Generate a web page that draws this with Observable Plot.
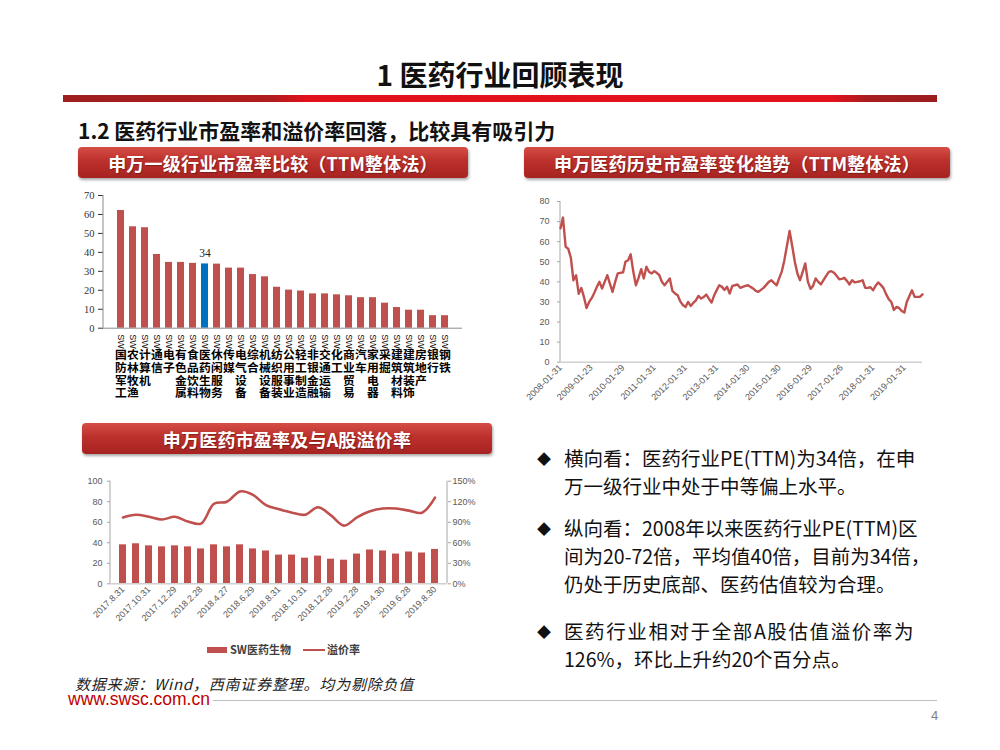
<!DOCTYPE html>
<html><head><meta charset="utf-8">
<script src="https://cdn.jsdelivr.net/npm/d3@7"></script>
<script src="https://cdn.jsdelivr.net/npm/@observablehq/plot@0.6"></script>
<style>
body{margin:0;width:1000px;height:750px;position:relative;background:#fff;font-family:"Noto Sans CJK SC",sans-serif;overflow:hidden}
.abs{position:absolute}
.btn{position:absolute;height:31px;border-radius:4px;background:linear-gradient(#d64d46,#bc302c 45%,#a62321);color:#fff;font-weight:bold;font-size:18px;display:flex;align-items:center;justify-content:center;box-shadow:1px 2px 3px rgba(0,0,0,.35);letter-spacing:0.2px;text-shadow:1px 1px 1px rgba(0,0,0,.3)}
.bul{position:absolute;left:537px;font-size:19.5px;line-height:28px;color:#111}
.bul .d{position:absolute;left:0;top:0;font-size:14px}
.bul .t{position:absolute;left:27px;top:0;white-space:nowrap}
</style></head>
<body>
<div class="abs" style="left:0;width:1000px;top:54px;text-align:center;font-size:28px;font-weight:bold;color:#111">1 医药行业回顾表现</div>
<div class="abs" style="left:63px;top:95px;width:874px;height:7px;background:linear-gradient(90deg,#9e1e1e 0%,#b21c1e 24%,#e2101a 28%,#e3121c 88%,#a81e1f 92%,#9a1d1d 100%)"></div>
<div class="abs" style="left:78px;top:115px;font-size:21px;font-weight:bold;color:#111">1.2 医药行业市盈率和溢价率回落，比较具有吸引力</div>
<div class="btn" style="left:78px;top:147px;width:390px">申万一级行业市盈率比较（TTM整体法）</div>
<div class="btn" style="left:524px;top:147px;width:426px">申万医药历史市盈率变化趋势（TTM整体法）</div>
<div class="btn" style="left:82px;top:423px;width:410px">申万医药市盈率及与A股溢价率</div>

<div id="c1" class="abs" style="left:60px;top:185px"></div>
<div id="c2" class="abs" style="left:520px;top:190px"></div>
<div id="c3" class="abs" style="left:70px;top:465px"></div>

<div class="abs" style="left:207px;top:647px;width:20px;height:6px;background:#c0504d"></div>
<div class="abs" style="left:230px;top:641px;font-size:11px;font-weight:bold;color:#404040">SW医药生物</div>
<div class="abs" style="left:303px;top:649px;width:22px;height:2px;background:#c0504d"></div>
<div class="abs" style="left:327px;top:641px;font-size:11px;font-weight:bold;color:#404040">溢价率</div>

<div class="abs" style="left:75px;top:676px;font-size:15px;line-height:15px;font-style:italic;letter-spacing:0.8px;color:#222">数据来源：Wind，西南证券整理。均为剔除负值</div>
<div class="abs" style="left:68px;top:691px;font-family:'Liberation Sans',Arial;font-size:17.5px;line-height:16px;color:#c00000">www.swsc.com.cn</div>
<div class="abs" style="left:213px;top:700px;width:724px;height:1px;background:#bfbfbf"></div>
<div class="abs" style="left:931px;top:708px;font-family:'Liberation Sans',Arial;font-size:13px;color:#7f7f7f">4</div>

<div class="bul" style="top:444px"><span class="d">◆</span><span class="t">横向看：医药行业PE(TTM)为34倍，在申<br>万一级行业中处于中等偏上水平。</span></div>
<div class="bul" style="top:514px"><span class="d">◆</span><span class="t">纵向看：2008年以来医药行业PE(TTM)区<br>间为20-72倍，平均值40倍，目前为34倍，<br>仍处于历史底部、医药估值较为合理。</span></div>
<div class="bul" style="top:617px"><span class="d">◆</span><span class="t"><span style="letter-spacing:1.6px">医药行业相对于全部A股估值溢价率为</span><br>126%，环比上升约20个百分点。</span></div>

<script>
// ---------- Chart 1 data ----------
const industries = ["国防军工","农林牧渔","计算机","通信","电子","有色金属","食品饮料","医药生物","休闲服务","传媒","电气设备","综合","机械设备","纺织服装","公用事业","轻工制造","非银金融","交通运输","化工","商业贸易","汽车","家用电器","采掘","建筑材料","建筑装饰","房地产","银行","钢铁"];
const industryPE = [62.1,53.5,53.0,38.9,34.7,34.7,34.2,33.9,33.8,31.7,31.7,28.3,27.1,21.6,20.1,19.6,18.1,18.1,17.6,17.1,16.1,16.1,13.2,10.9,9.5,9.5,6.6,6.6];
const highlight = "医药生物";
const peTicks = [0,10,20,30,40,50,60,70];

// ---------- Chart 2 data ----------
const histStart = [2008, 0]; // monthly, month-end, from 2008-01
const histPE = [66.7,72,57.5,56.5,52,40.8,43.3,34,37,32.5,27,30,
32,34.5,37.5,40,36.7,40,43.3,39,35,40,44.2,44.5,
44.7,50,50.8,53.7,45,38.3,42,46.3,41.7,47.5,45,44.2,
45.3,44.5,43.3,40,38.3,40,41.7,35.5,34.2,33.3,30.3,28.5,
27.5,30,28,29.5,30.8,33,31.7,32.5,33.7,31.5,29.7,33.3,
36,38.3,37.5,36,37.5,34.2,38,38.3,38.7,37,37.5,38,
38.3,37.5,36.7,35.5,35,36,37,38.5,40,40.8,39.5,38.3,
42,45,50.8,58,65.3,58,50,44,40.8,45,49.2,40,
36.5,38,41.7,40,38.7,40.8,43,45,45.3,44.5,43,41.3,
41.5,42,40.5,38.7,40.8,39.7,40,40.3,40.8,37,37,37.3,
35.8,38,39.7,38.5,37,34,31.5,30,26,27.5,27,25.5,
24.7,30,33,35.8,32.5,32.5,32.5,33.8];
const histTicks = ["2008-01-31","2009-01-23","2010-01-29","2011-01-31","2012-01-31","2013-01-31","2014-01-30","2015-01-30","2016-01-29","2017-01-26","2018-01-31","2019-01-31"];
const histYTicks = [0,10,20,30,40,50,60,70,80];

// ---------- Chart 3 data ----------
const premDates = ["2017.8.31","2017.9.29","2017.10.31","2017.11.30","2017.12.29","2018.1.31","2018.2.28","2018.3.30","2018.4.27","2018.5.31","2018.6.29","2018.7.31","2018.8.31","2018.9.28","2018.10.31","2018.11.30","2018.12.28","2019.1.31","2019.2.28","2019.3.29","2019.4.30","2019.5.31","2019.6.28","2019.7.31","2019.8.30"];
const premPE = [38,39,37,36,37,36,34,38,36,38,34,32,28,28,25,27,24,23,29,33,32,29,31,30,33.5];
const premRate = [97,101,98,94,98,91,88,117,120,135,130,115,109,104,101,112,100,85,97,106,110,110,107,104,126];
const leftTicks = [0,20,40,60,80,100];

const RED = "#c0504d";
const GREY = "#595959";

function vline(side, color) {
  return (index, scales, values, dims) => {
    const x = side === "left" ? dims.marginLeft : dims.width - dims.marginRight;
    const l = document.createElementNS("http://www.w3.org/2000/svg", "line");
    l.setAttribute("x1", x); l.setAttribute("x2", x);
    l.setAttribute("y1", dims.marginTop); l.setAttribute("y2", dims.height - dims.marginBottom);
    l.setAttribute("stroke", color); l.setAttribute("stroke-width", 1);
    return l;
  };
}

// ---------- Chart 1 ----------
const c1data = industries.map((n, i) => ({n, v: industryPE[i]}));
document.getElementById("c1").append(Plot.plot({
  width: 407, height: 232, marginLeft: 43, marginRight: 5, marginTop: 10, marginBottom: 89.3,
  style: {fontFamily: "Liberation Serif", fontSize: "10.5px", background: "transparent", color: "#333"},
  x: {domain: industries, padding: 0.45, axis: null},
  y: {domain: [0, 70]},
  marks: [
    Plot.axisY({ticks: peTicks, tickSize: 5, tickPadding: 4, label: null, color: "#333", fontFamily: "Liberation Serif", fontSize: 10.5}),
    vline("left", "#8c8c8c"),
    Plot.barY(c1data.filter(d => d.n !== highlight), {x: "n", y: "v", fill: RED}),
    Plot.barY(c1data.filter(d => d.n === highlight), {x: "n", y: "v", fill: "#0070c0"}),
    Plot.ruleY([0], {stroke: "#8c8c8c"}),
    Plot.text(c1data.filter(d => d.n === highlight), {x: "n", y: "v", text: d => String(Math.round(d.v)), dy: -11, fontFamily: "Liberation Serif", fontSize: 11.5, fill: "#222"}),
    Plot.text(industries, {x: d => d, y: 0, text: () => "SW", rotate: 90, textAnchor: "start", dy: 6, fontFamily: "Liberation Sans", fontSize: 9, fill: "#111"}),
    Plot.text(industries, {x: d => d, y: 0, text: d => d.split("").join("\n"), lineAnchor: "top", dy: 22, lineHeight: 1.08, fontFamily: "Noto Sans CJK SC", fontWeight: "bold", fontSize: 11.8, fill: "#000"})
  ]
}));

// ---------- Chart 2 ----------
const histData = histPE.map((v, i) => ({date: new Date(Date.UTC(histStart[0], histStart[1] + i + 1, 0)), v}));
const parse = d3.utcParse("%Y-%m-%d");
document.getElementById("c2").append(Plot.plot({
  width: 422, height: 232, marginLeft: 40, marginRight: 20, marginTop: 11, marginBottom: 60.3,
  style: {fontFamily: "Liberation Sans", fontSize: "9px", background: "transparent"},
  x: {type: "utc", domain: [parse("2008-01-31"), histData[histData.length - 1].date]},
  y: {domain: [0, 80]},
  marks: [
    Plot.axisY({ticks: histYTicks, tickSize: 3, tickPadding: 8, label: null, color: GREY, stroke: "#a6a6a6"}),
    vline("left", "#a6a6a6"),
    Plot.axisX({ticks: histTicks.map(parse), tickFormat: d3.utcFormat("%Y-%m-%d"), tickRotate: -45, tickSize: 0, tickPadding: 4, label: null, color: GREY}),
    Plot.ruleY([0], {stroke: "#d0d0d0", strokeWidth: 1.5}),
    Plot.line(histData, {x: "date", y: "v", stroke: RED, strokeWidth: 2.4, strokeLinejoin: "round"})
  ]
}));

// ---------- Chart 3 ----------
const premData = premDates.map((d, i) => ({d, pe: premPE[i], r: premRate[i] / 1.5}));
document.getElementById("c3").append(Plot.plot({
  width: 412, height: 176, marginLeft: 40, marginRight: 35, marginTop: 15.7, marginBottom: 57.7,
  style: {fontFamily: "Liberation Sans", fontSize: "9px", background: "transparent"},
  x: {domain: premDates, padding: 0.45},
  y: {domain: [0, 100]},
  marks: [
    Plot.axisY({anchor: "left", ticks: leftTicks, tickSize: 3, tickPadding: 5, label: null, color: GREY, stroke: "#a6a6a6"}),
    Plot.axisY({anchor: "right", ticks: leftTicks, tickFormat: d => (d * 1.5) + "%", tickSize: 3, tickPadding: 2, label: null, color: GREY, stroke: "#a6a6a6"}),
    vline("left", "#a6a6a6"),
    vline("right", "#a6a6a6"),
    Plot.axisX({ticks: premDates.filter((d, i) => i % 2 === 0), tickRotate: -45, tickSize: 0, tickPadding: 4, label: null, color: GREY}),
    Plot.barY(premData, {x: "d", y: "pe", fill: RED}),
    Plot.ruleY([0], {stroke: "#d0d0d0", strokeWidth: 1.5}),
    Plot.line(premData, {x: "d", y: "r", stroke: RED, strokeWidth: 2.6, curve: "catmull-rom"})
  ]
}));
</script>
</body></html>
